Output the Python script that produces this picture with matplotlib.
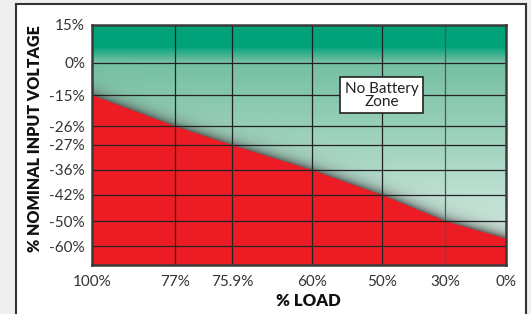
import numpy as np
import matplotlib.pyplot as plt
from matplotlib.patches import Rectangle
from matplotlib.colors import to_rgb

# --- Data ---
load_labels = ["100%", "77%", "75.9%", "60%", "50%", "30%", "0%"]
volt_labels = ["15%", "0%", "-15%", "-26%", "-27%", "-36%", "-42%", "-50%", "-60%"]
volt_values = [15, 0, -15, -26, -27, -36, -42, -50, -60]
cutoff_volt = [-15, -26, -27, -36, -42, -50, -57]  # red zone boundary at each load tick

# --- Layout (uneven tick spacing, fraction of axes) ---
x_pos = [0.0, 0.200, 0.338, 0.531, 0.700, 0.853, 1.0]
y_pos = [1.0, 0.842, 0.708, 0.579, 0.500, 0.396, 0.292, 0.183, 0.079]

W, H = 531, 314
fig = plt.figure(figsize=(W / 100, H / 100), dpi=100, facecolor="#efefef")
plt.rcParams["font.family"] = ["Lato", "DejaVu Sans"]

# white panel
fig.add_artist(Rectangle((16 / W, -0.1), 510 / W, 1.1 - 4 / H, transform=fig.transFigure,
                         facecolor="white", edgecolor="#333333", lw=1.5, zorder=0))

ax = fig.add_axes([92 / W, 49 / H, 414 / W, 240 / H])
ax.set_xlim(0, 1)
ax.set_ylim(0, 1)


def volt_to_pos(v):
    return np.interp(v, volt_values[::-1], y_pos[::-1])


bound_y = volt_to_pos(np.array(cutoff_volt))

# background gradient + shadow above the red zone
ph, pw = 480, 828
yy = np.linspace(1, 0, ph)[:, None]
xx = np.linspace(0, 1, pw)[None, :]
top = np.array(to_rgb("#00a37a"))
mid = np.array(to_rgb("#74bfa1"))
bot = np.array(to_rgb("#e3f1eb"))
t1 = np.clip((0.91 - yy) / (0.91 - 0.85), 0, 1)
t2 = np.clip((0.85 - yy) / 0.85, 0, 1)
bg = top * (1 - t1[..., None]) + mid * t1[..., None]
bg = bg * (1 - t2[..., None]) + bot * t2[..., None]
bg = np.broadcast_to(bg, (ph, pw, 3)).copy()
by = np.interp(xx, x_pos, bound_y)
d = (yy - by) * 240
w = np.where(d >= -2, 0.8 * np.exp(-np.clip(d, 0, None) / 6.0), 0)
shade = np.array(to_rgb("#4a4a4a"))
img = bg * (1 - w[..., None]) + shade * w[..., None]
ax.imshow(img, extent=[0, 1, 0, 1], aspect="auto", zorder=0)

# red zone
ax.fill_between(x_pos, 0, bound_y, facecolor="#ed1c24", edgecolor="#ed1c24", lw=0.3, zorder=1)

# grid
for i, x in enumerate(x_pos[1:-1]):
    ax.axvline(x, color="#555555" if load_labels[i + 1] == "30%" else "#222222", lw=0.9, zorder=2)
for y in y_pos[1:]:
    ax.axhline(y, color="#222222", lw=0.9, zorder=2)

ax.set_xticks(x_pos, load_labels)
ax.set_yticks(y_pos, volt_labels)
ax.tick_params(length=0, labelsize=11, labelcolor="#333333", pad=5)
ax.tick_params(axis="x", pad=7)
for s in ax.spines.values():
    s.set_color("#3a3a3a")
    s.set_linewidth(1.8)
    s.set_zorder(3)

ax.text(0.700, 0.708, "No Battery\nZone", ha="center", va="center", fontsize=11,
        color="#222222", linespacing=0.9, zorder=4,
        bbox=dict(boxstyle="square,pad=0.3", facecolor="white", edgecolor="#222222", lw=1.2))

fig.text(308 / W, 1 - 301 / H, "% LOAD", ha="center", va="center", fontsize=12,
         fontweight="heavy", color="#111111")
fig.text(35 / W, 1 - 139 / H, "% NOMINAL INPUT VOLTAGE", ha="center", va="center",
         rotation=90, fontsize=11.5, fontweight="heavy", color="#111111")

fig.savefig("out.png", dpi=100, facecolor=fig.get_facecolor())
